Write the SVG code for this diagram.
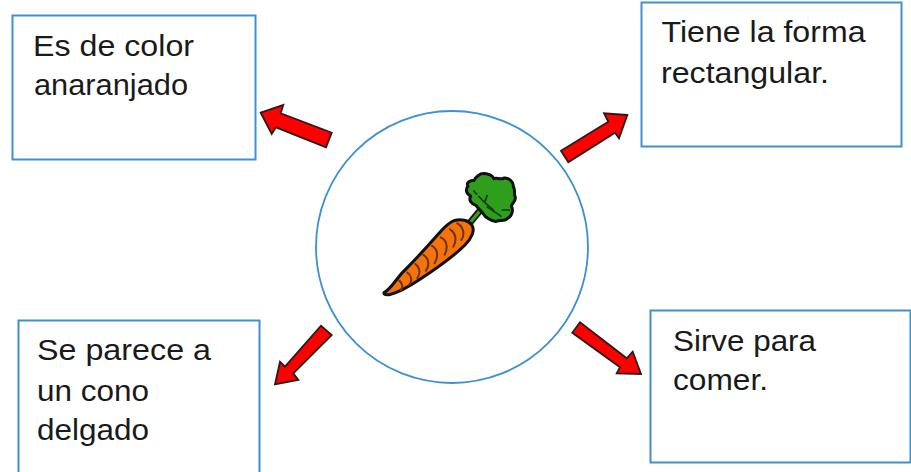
<svg xmlns="http://www.w3.org/2000/svg" width="911" height="472" viewBox="0 0 911 472">
<style>
.box{fill:#fff;stroke:#3f8fd2;stroke-width:2}
.t{font-family:"Liberation Sans",Arial,sans-serif;font-size:29.500px;fill:#1a1a1a}
.arrow{fill:#f00;stroke:#2a1a1a;stroke-width:1.800;stroke-linejoin:miter}
.ridge{fill:none;stroke:#6a3208;stroke-width:6;stroke-linecap:round}
</style>
<rect width="911" height="472" fill="#fff"/>
<g id="node-centre">
<circle cx="452" cy="247" r="136" fill="#fff" stroke="#3f8fd2" stroke-width="1.800"/>
<g transform="translate(370 160) scale(.3333)">
<path d="M300 188L340 140" stroke="#111" stroke-width="20" fill="none"/>
<path d="M302 186L342 138" stroke="#3f9a1e" stroke-width="10" fill="none"/>
<path d="M326 46C334 38 362 38 372 56C380 50 392 62 402 54C416 52 432 66 430 80C438 92 430 102 436 112C438 124 426 130 424 138C432 150 424 170 414 174C404 186 390 178 380 184C366 186 356 176 346 170C340 158 328 150 318 136C302 130 296 120 302 108C288 102 286 88 294 78C286 66 306 60 312 62C316 54 320 50 326 46Z" fill="#2f9e1c" stroke="#111" stroke-width="9" stroke-linejoin="round"/>
<path d="M345 128L372 152M345 128L325 108M350 140L395 170M345 125L352 105M310 92L322 104M395 150L420 150" stroke="#123f0a" stroke-width="5" fill="none"/>
<path d="M42 398C62 388 76 360 100 335C130 305 170 262 205 222C220 205 235 188 252 182C272 176 296 180 306 196C316 212 304 236 285 255C250 290 200 325 150 358C120 378 90 396 62 403C52 406 40 404 42 398Z" fill="#f5730a" stroke="#111" stroke-width="9" stroke-linejoin="round"/>
<path class="ridge" d="M262 190C280 200 286 222 274 240M240 208C256 218 262 238 250 260M212 232C232 240 234 265 224 284M186 258C204 268 206 290 194 310M160 285C176 294 180 315 168 332M136 312C150 322 152 340 142 354M112 338C124 346 128 362 118 374M88 362C98 370 100 382 92 390"/>
</g>
</g>
<g id="node-color">
<rect class="box" x="12.500" y="15.500" width="243" height="144"/>
<text class="t" x="33" y="56" textLength="161" lengthAdjust="spacingAndGlyphs">Es de color</text>
<text class="t" x="34" y="95" textLength="154" lengthAdjust="spacingAndGlyphs">anaranjado</text>
</g>
<g id="node-forma">
<rect class="box" x="641.500" y="2.500" width="260" height="144"/>
<text class="t" x="661.500" y="42" textLength="204" lengthAdjust="spacingAndGlyphs">Tiene la forma</text>
<text class="t" x="661" y="83" textLength="168" lengthAdjust="spacingAndGlyphs">rectangular.</text>
</g>
<g id="node-cono">
<rect class="box" x="18.500" y="320.500" width="241" height="160"/>
<text class="t" x="37" y="360" textLength="174" lengthAdjust="spacingAndGlyphs">Se parece a</text>
<text class="t" x="37" y="401" textLength="112" lengthAdjust="spacingAndGlyphs">un cono</text>
<text class="t" x="37" y="440" textLength="112" lengthAdjust="spacingAndGlyphs">delgado</text>
</g>
<g id="node-comer">
<rect class="box" x="650.500" y="310.500" width="260" height="152"/>
<text class="t" x="673" y="351" textLength="143" lengthAdjust="spacingAndGlyphs">Sirve para</text>
<text class="t" x="673" y="390" textLength="95" lengthAdjust="spacingAndGlyphs">comer.</text>
</g>
<g id="connectors">
<polygon class="arrow" points="260.700,112.700 283.300,105 280.700,113.300 331.700,132.700 326,147.300 276,127.300 271.700,134"/>
<polygon class="arrow" points="627.300,115 604,113.300 608.300,121.700 561,150.700 568.300,162.300 615,132.700 619,138.300"/>
<polygon class="arrow" points="275,384.300 280,361.700 285,366.700 321,325.700 331.700,335 293.300,373.300 298.300,380"/>
<polygon class="arrow" points="641,374 632.700,351.700 626.700,358.300 580,322.300 572.300,332.700 620,367.300 616.700,373.300"/>
</g>
</svg>
